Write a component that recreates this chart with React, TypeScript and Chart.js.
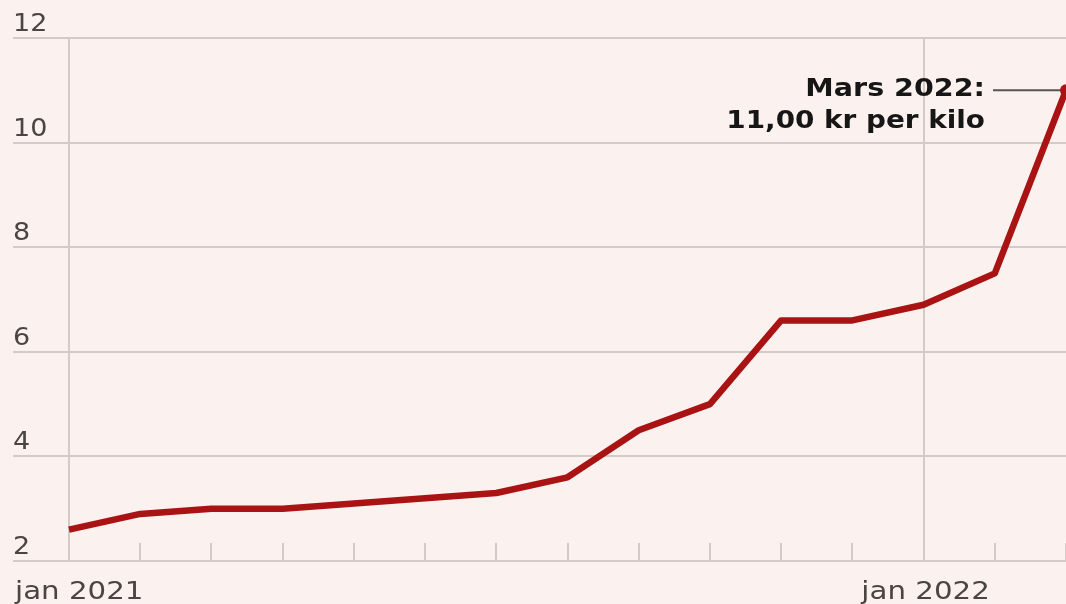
import React, { useEffect, useRef } from "react";
import { Chart, registerables } from "chart.js";

Chart.register(...registerables);

const months = ["jan 2021", "feb 2021", "mar 2021", "apr 2021", "mai 2021", "jun 2021", "jul 2021", "aug 2021", "sep 2021", "okt 2021", "nov 2021", "des 2021", "jan 2022", "feb 2022", "mar 2022"];
const prices = [2.6, 2.9, 3.0, 3.0, 3.1, 3.2, 3.3, 3.6, 4.5, 5.0, 6.6, 6.6, 6.9, 7.5, 11.0];
const yTicks = [2, 4, 6, 8, 10, 12];
const xLabels: { index: number; text: string; align: "left" | "center" }[] = [
  { index: 0, text: "jan 2021", align: "left" },
  { index: 12, text: "jan 2022", align: "center" },
];
const majorTicks = [0, 12];
const annotationLines = ["Mars 2022:", "11,00 kr per kilo"];

const BG = "#FBF2EF";
const RED = "#AA1313";
const GRID = "#D3CBC8";
const TEXT = "#4A4542";
const FONT = "'DejaVu Sans', sans-serif";

function wideText(ctx: CanvasRenderingContext2D, text: string, x: number, y: number, align: CanvasTextAlign, sx: number) {
  ctx.save();
  ctx.translate(x, y);
  ctx.scale(sx, 1);
  ctx.textAlign = align;
  ctx.textBaseline = "alphabetic";
  ctx.fillText(text, 0, 0);
  ctx.restore();
}

export default function App() {
  const ref = useRef<HTMLCanvasElement>(null);
  useEffect(() => {
    const canvas = ref.current!;
    const bgPlugin = {
      id: "decor",
      beforeDatasetsDraw(chart: any) {
        const ctx = chart.ctx as CanvasRenderingContext2D;
        const xs = chart.scales.x;
        const ys = chart.scales.y;
        const area = chart.chartArea;
        ctx.save();
        ctx.lineWidth = 2;
        ctx.strokeStyle = GRID;
        ctx.fillStyle = TEXT;
        ctx.font = `25px ${FONT}`;
        yTicks.forEach((v) => {
          const y = Math.round(ys.getPixelForValue(v));
          ctx.beginPath();
          ctx.moveTo(13, y);
          ctx.lineTo(chart.width, y);
          ctx.stroke();
          wideText(ctx, String(v), 13, y - 7, "left", 1.08);
        });
        majorTicks.forEach((i) => {
          const x = Math.round(xs.getPixelForValue(i));
          ctx.beginPath();
          ctx.moveTo(x, area.top);
          ctx.lineTo(x, area.bottom);
          ctx.stroke();
        });
        months.forEach((_, i) => {
          if (majorTicks.includes(i)) return;
          const x = Math.round(xs.getPixelForValue(i));
          ctx.beginPath();
          ctx.moveTo(x, area.bottom - 18);
          ctx.lineTo(x, area.bottom);
          ctx.stroke();
        });
        ctx.font = `24px ${FONT}`;
        xLabels.forEach((l) => {
          const x = xs.getPixelForValue(l.index);
          wideText(ctx, l.text, l.align === "left" ? 15 : x + 2, area.bottom + 38, l.align, 1.22);
        });
        ctx.restore();
      },
      afterDatasetsDraw(chart: any) {
        const ctx = chart.ctx as CanvasRenderingContext2D;
        const xs = chart.scales.x;
        const ys = chart.scales.y;
        const last = prices.length - 1;
        const px = xs.getPixelForValue(last);
        const py = ys.getPixelForValue(prices[last]);
        ctx.save();
        ctx.strokeStyle = "#555";
        ctx.lineWidth = 2;
        ctx.beginPath();
        ctx.moveTo(px - 73, py);
        ctx.lineTo(px - 6, py);
        ctx.stroke();
        ctx.fillStyle = RED;
        ctx.beginPath();
        ctx.arc(px, py, 6, 0, Math.PI * 2);
        ctx.fill();
        ctx.fillStyle = "#161616";
        ctx.font = `bold 24px ${FONT}`;
        wideText(ctx, annotationLines[0], px - 81, py + 6, "right", 1.19);
        wideText(ctx, annotationLines[1], px - 81, py + 38, "right", 1.16);
        ctx.restore();
      },
    };
    const chart = new Chart(canvas, {
      type: "line",
      data: {
        labels: months,
        datasets: [
          {
            data: prices.map((v, i) => ({ x: i, y: v })),
            borderColor: RED,
            borderWidth: 6.5,
            pointRadius: 0,
            tension: 0,
            borderJoinStyle: "round",
            clip: false as any,
          },
        ],
      },
      options: {
        animation: false,
        responsive: false,
        maintainAspectRatio: false,
        layout: { padding: { left: 69, right: 0, top: 38, bottom: 43 } },
        plugins: { legend: { display: false }, tooltip: { enabled: false } },
        scales: {
          x: { type: "linear", min: 0, max: months.length - 1, display: false },
          y: { type: "linear", min: 2, max: 12, display: false },
        },
      },
      plugins: [bgPlugin],
    });
    return () => chart.destroy();
  }, []);
  return (
    <div style={{ position: "fixed", left: 0, top: 0, width: 1066, height: 604, background: BG }}>
      <canvas ref={ref} width={1066} height={604} style={{ display: "block" }} />
    </div>
  );
}
